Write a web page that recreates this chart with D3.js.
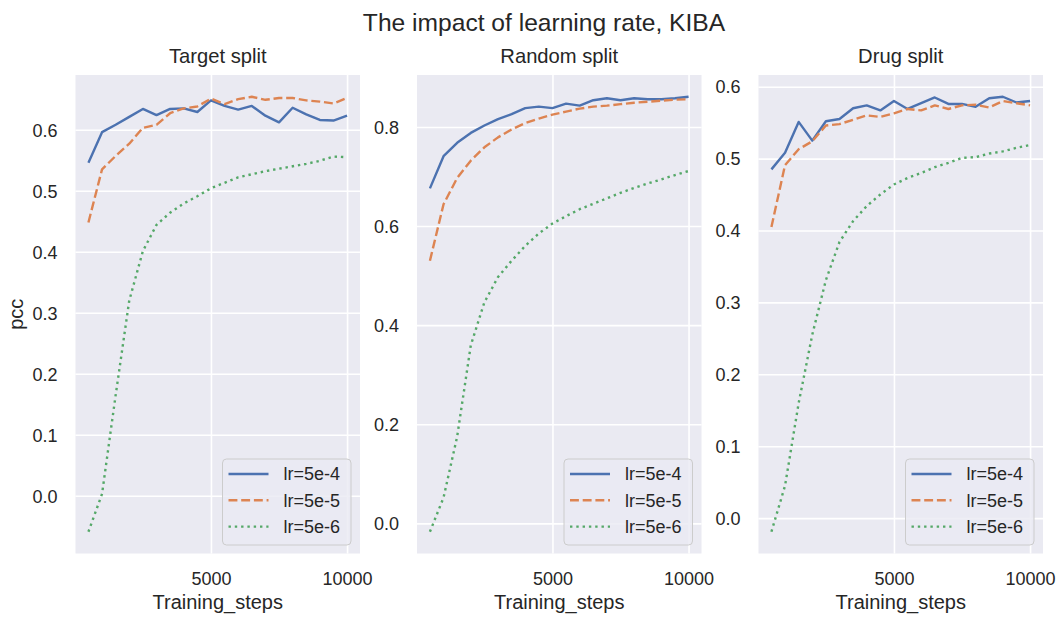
<!DOCTYPE html>
<html>
<head>
<meta charset="utf-8">
<script src="https://cdn.jsdelivr.net/npm/d3@7/dist/d3.min.js"></script>
<style>
  html, body { margin: 0; padding: 0; background: #ffffff; }
  svg { display: block; font-family: "Liberation Sans", Arial, sans-serif; }
</style>
</head>
<body>
<svg id="chart" width="1059" height="618"></svg>
<script>
// ---------- data ----------
const steps = [500, 1000, 1500, 2000, 2500, 3000, 3500, 4000, 4500, 5000,
               5500, 6000, 6500, 7000, 7500, 8000, 8500, 9000, 9500, 10000];

const seriesNames = ["lr=5e-4", "lr=5e-5", "lr=5e-6"];
const panelTitles = ["Target split", "Random split", "Drug split"];

// Target split
const targetLr4 = [0.546, 0.596, 0.608, 0.621, 0.634, 0.624, 0.634, 0.635, 0.629, 0.648,
                   0.639, 0.633, 0.639, 0.623, 0.612, 0.636, 0.625, 0.616, 0.615, 0.623];
const targetLr5 = [0.448, 0.535, 0.557, 0.577, 0.603, 0.608, 0.627, 0.635, 0.638, 0.651,
                   0.642, 0.650, 0.654, 0.649, 0.652, 0.652, 0.648, 0.646, 0.643, 0.652];
const targetLr6 = [-0.059, 0.003, 0.165, 0.320, 0.401, 0.444, 0.464, 0.479, 0.491, 0.504,
                   0.513, 0.522, 0.527, 0.532, 0.536, 0.540, 0.544, 0.549, 0.556, 0.555];

// Random split
const randomLr4 = [0.676, 0.741, 0.768, 0.788, 0.803, 0.816, 0.826, 0.838, 0.841, 0.838,
                   0.847, 0.843, 0.854, 0.858, 0.854, 0.858, 0.856, 0.856, 0.858, 0.861];
const randomLr5 = [0.530, 0.644, 0.697, 0.732, 0.759, 0.779, 0.795, 0.808, 0.817, 0.825,
                   0.831, 0.837, 0.841, 0.843, 0.846, 0.849, 0.851, 0.853, 0.855, 0.856];
const randomLr6 = [-0.017, 0.052, 0.175, 0.359, 0.446, 0.497, 0.530, 0.560, 0.585, 0.605,
                   0.620, 0.634, 0.645, 0.656, 0.667, 0.677, 0.686, 0.694, 0.703, 0.711];

// Drug split
const drugLr4 = [0.485, 0.508, 0.551, 0.525, 0.552, 0.555, 0.570, 0.574, 0.567, 0.580,
                 0.569, 0.577, 0.585, 0.576, 0.576, 0.572, 0.584, 0.586, 0.578, 0.580];
const drugLr5 = [0.405, 0.491, 0.513, 0.524, 0.546, 0.548, 0.554, 0.560, 0.558, 0.563,
                 0.569, 0.567, 0.574, 0.569, 0.574, 0.575, 0.571, 0.580, 0.577, 0.574];
const drugLr6 = [-0.019, 0.045, 0.160, 0.255, 0.331, 0.384, 0.413, 0.434, 0.450, 0.464,
                 0.473, 0.480, 0.488, 0.494, 0.501, 0.502, 0.507, 0.510, 0.515, 0.519];

const xTickValues = [5000, 10000];
const yTickSets = [
  [0.0, 0.1, 0.2, 0.3, 0.4, 0.5, 0.6],
  [0.0, 0.2, 0.4, 0.6, 0.8],
  [0.0, 0.1, 0.2, 0.3, 0.4, 0.5, 0.6]
];

const panelSeries = [
  [targetLr4, targetLr5, targetLr6],
  [randomLr4, randomLr5, randomLr6],
  [drugLr4, drugLr5, drugLr6]
];

// ---------- styling / layout ----------
const colors = ["#4C72B0", "#DD8452", "#55A868"];
const dashes = [null, "8.9,3.8", "2.4,3.9"];
const textColor = "#262626";
const bg = "#EAEAF2";
const panelLeft = [75.5, 417, 758.5];
const panelW = 284.5;
const plotTop = 75, plotBottom = 553.5;
const tickFont = 18, labelFont = 20, titleFont = 20.2, supFont = 24.6, legendFont = 18;

const svg = d3.select("#chart");

svg.append("text")
  .attr("x", 544).attr("y", 30.5)
  .attr("text-anchor", "middle")
  .attr("font-size", supFont)
  .attr("fill", textColor)
  .text("The impact of learning rate, KIBA");

function padded(ext) {
  const r = ext[1] - ext[0];
  return [ext[0] - 0.05 * r, ext[1] + 0.05 * r];
}

panelSeries.forEach((series, pi) => {
  const x0 = panelLeft[pi];
  const x = d3.scaleLinear()
    .domain(padded(d3.extent(steps)))
    .range([x0, x0 + panelW]);
  const allVals = series.flat();
  const y = d3.scaleLinear()
    .domain(padded(d3.extent(allVals)))
    .range([plotBottom, plotTop]);

  const g = svg.append("g");

  g.append("rect")
    .attr("x", x0).attr("y", plotTop)
    .attr("width", panelW).attr("height", plotBottom - plotTop)
    .attr("fill", bg);

  const clipId = "clip" + pi;
  svg.append("clipPath").attr("id", clipId)
    .append("rect").attr("x", x0).attr("y", plotTop)
    .attr("width", panelW).attr("height", plotBottom - plotTop);

  const xAxisGrid = d3.axisBottom(x).tickValues(xTickValues)
    .tickSize(-(plotBottom - plotTop)).tickFormat("");
  const gx = g.append("g").attr("transform", `translate(0,${plotBottom})`).call(xAxisGrid);
  gx.select(".domain").remove();
  gx.selectAll("line").attr("stroke", "#ffffff").attr("stroke-width", 1.6);

  const yAxisGrid = d3.axisLeft(y).tickValues(yTickSets[pi])
    .tickSize(-panelW).tickFormat("");
  const gy = g.append("g").attr("transform", `translate(${x0},0)`).call(yAxisGrid);
  gy.select(".domain").remove();
  gy.selectAll("line").attr("stroke", "#ffffff").attr("stroke-width", 1.6);

  const xAxis = d3.axisBottom(x).tickValues(xTickValues).tickSize(0).tickPadding(0)
    .tickFormat(d3.format("d"));
  const gxl = g.append("g").attr("transform", `translate(0,${plotBottom})`).call(xAxis);
  gxl.select(".domain").remove();
  gxl.selectAll("text")
    .attr("y", 31).attr("dy", 0)
    .attr("font-size", tickFont).attr("font-family", "Liberation Sans, Arial, sans-serif")
    .attr("fill", textColor);

  const yAxis = d3.axisLeft(y).tickValues(yTickSets[pi]).tickSize(0).tickPadding(0)
    .tickFormat(d3.format(".1f"));
  const gyl = g.append("g").attr("transform", `translate(${x0},0)`).call(yAxis);
  gyl.select(".domain").remove();
  gyl.selectAll("text")
    .attr("x", -18).attr("dy", "0.35em")
    .attr("font-size", tickFont).attr("font-family", "Liberation Sans, Arial, sans-serif")
    .attr("fill", textColor);

  const line = d3.line().x((d, i) => x(steps[i])).y(d => y(d));
  const lg = g.append("g").attr("clip-path", `url(#${clipId})`);
  series.forEach((vals, si) => {
    lg.append("path")
      .datum(vals)
      .attr("d", line)
      .attr("fill", "none")
      .attr("stroke", colors[si])
      .attr("stroke-width", 2.4)
      .attr("stroke-linejoin", "round")
      .attr("stroke-dasharray", dashes[si]);
  });

  g.append("text")
    .attr("x", x0 + panelW / 2).attr("y", 63.3)
    .attr("text-anchor", "middle")
    .attr("font-size", titleFont).attr("fill", textColor)
    .text(panelTitles[pi]);

  g.append("text")
    .attr("x", x0 + panelW / 2).attr("y", 609.3)
    .attr("text-anchor", "middle")
    .attr("font-size", labelFont).attr("fill", textColor)
    .text("Training_steps");

  const lw = 128.5, lh = 86;
  const lx = x0 + panelW - 9 - lw, ly = plotBottom - 8.5 - lh;
  const leg = g.append("g");
  leg.append("rect")
    .attr("x", lx).attr("y", ly).attr("width", lw).attr("height", lh)
    .attr("rx", 4).attr("ry", 4)
    .attr("fill", "rgba(234,234,242,0.8)")
    .attr("stroke", "#cccccc").attr("stroke-width", 1);
  seriesNames.forEach((name, si) => {
    const ry = ly + 15 + si * 26.3;
    leg.append("line")
      .attr("x1", lx + 6).attr("x2", lx + 46)
      .attr("y1", ry).attr("y2", ry)
      .attr("stroke", colors[si]).attr("stroke-width", 2.4)
      .attr("stroke-dasharray", dashes[si]);
    leg.append("text")
      .attr("x", lx + 61).attr("y", ry).attr("dy", "0.35em")
      .attr("font-size", legendFont).attr("fill", textColor)
      .text(name);
  });
});

svg.append("text")
  .attr("transform", `translate(23,${(plotTop + plotBottom) / 2}) rotate(-90)`)
  .attr("text-anchor", "middle")
  .attr("font-size", labelFont).attr("fill", textColor)
  .text("pcc");
</script>
</body>
</html>
